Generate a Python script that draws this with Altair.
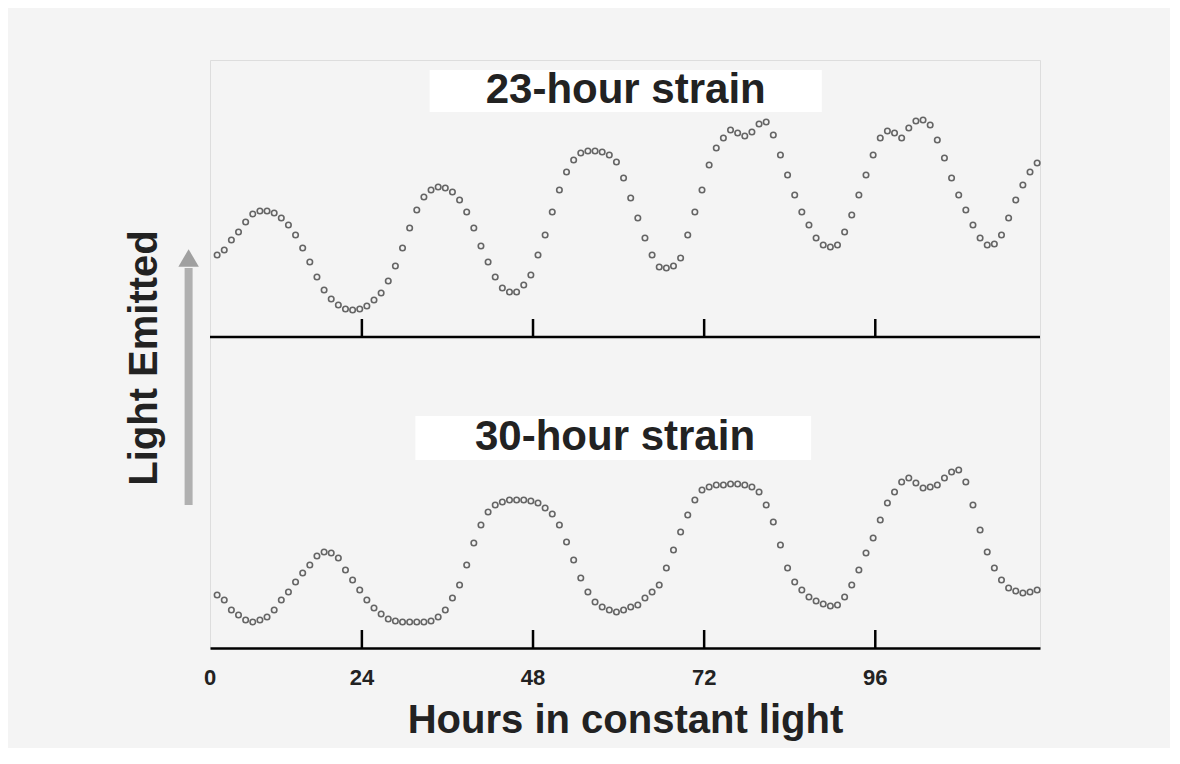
import altair as alt
import pandas as pd

# readings taken hourly, in picture units measured downward from the top
hours = [h + 2.7 for h in range(1, 117)]
strain23_read = [
    255, 250, 240, 232, 222, 214, 211, 211, 213, 218, 225, 235, 248, 262, 277, 290, 299, 305, 309, 310,
    309, 306, 300, 293, 281, 266, 248, 228, 210, 197, 190, 187, 188, 192, 200, 212, 228, 246, 262, 277,
    288, 292, 292, 285, 275, 255, 235, 212, 190, 172, 160, 153, 151, 151, 152, 155, 162, 178, 198, 218,
    238, 255, 267, 268, 266, 258, 235, 212, 190, 165, 148, 138, 130, 133, 136, 132, 124, 122, 135, 155,
    175, 195, 212, 225, 238, 245, 247, 245, 232, 215, 195, 175, 155, 138, 131, 133, 138, 128, 121, 120,
    125, 140, 158, 178, 195, 210, 225, 238, 245, 244, 235, 218, 200, 185, 172, 163,
]
strain30_read = [
    595, 600, 610, 615, 620, 622, 620, 617, 610, 600, 592, 582, 573, 565, 556, 552, 553, 558, 570, 580,
    590, 600, 608, 614, 619, 621, 622, 622, 622, 622, 621, 617, 610, 598, 585, 565, 543, 525, 512, 505,
    502, 500, 500, 500, 501, 503, 508, 514, 525, 542, 560, 578, 592, 602, 607, 610, 612, 610, 607, 605,
    598, 592, 585, 568, 550, 532, 515, 500, 490, 487, 485, 485, 484, 484, 485, 487, 492, 505, 522, 545,
    568, 582, 590, 597, 601, 604, 606, 605, 597, 585, 570, 553, 538, 520, 503, 492, 482, 478, 483, 488,
    487, 485, 478, 472, 470, 482, 505, 530, 552, 568, 580, 588, 591, 593, 592, 590,
]
tick_hours = [24, 48, 72, 96]
label_pos = [2.7, 24, 48, 72, 96]
label_text = ["0", "24", "48", "72", "96"]

TOP_BASE, BOT_BASE = 337, 648
X0, X1 = 2.7, 119.1

points = pd.DataFrame({
    "hour": hours * 2,
    "y": strain23_read + strain30_read,
})

x = alt.X("hour:Q", scale=alt.Scale(domain=[X0, X1], nice=False, zero=False),
          axis=alt.Axis(labels=False, ticks=False, grid=False, domainColor="black",
                        domainWidth=2.5, title="Hours in constant light",
                        titleFont="Liberation Sans", titleFontSize=40, titleFontWeight="bold",
                        titleColor="#222", titlePadding=52))
yscale = alt.Scale(domain=[60, BOT_BASE], reverse=True, nice=False, zero=False)
y = alt.Y("y:Q", scale=yscale, axis=None)

boxes = alt.Chart(pd.DataFrame({
    "hour": [33.5, 31.5], "hour2": [88.5, 87.0], "y": [70, 416], "y2": [112, 460],
})).mark_rect(color="white").encode(x="hour:Q", x2="hour2:Q", y=y, y2="y2:Q")

dots = alt.Chart(points).mark_point(filled=False, stroke="#2a2a2a", strokeWidth=1.6, size=30).encode(x=x, y=y)

top_axis = alt.Chart(pd.DataFrame({"a": [X0], "b": [X1], "y": [TOP_BASE]})).mark_rule(
    color="black", strokeWidth=2.5).encode(x=alt.X("a:Q"), x2="b:Q", y=y)

ticks = alt.Chart(pd.DataFrame({
    "hour": tick_hours * 2,
    "y": [TOP_BASE] * 4 + [BOT_BASE] * 4,
    "y2": [TOP_BASE - 18] * 4 + [BOT_BASE - 18] * 4,
})).mark_rule(color="black", strokeWidth=2.5).encode(x="hour:Q", y=y, y2="y2:Q")

xlabels = alt.Chart(pd.DataFrame({"hour": label_pos, "y": [678] * 5, "t": label_text})).mark_text(
    font="Liberation Sans", fontSize=22, fontWeight="bold", color="#222", clip=False).encode(
    x="hour:Q", y=y, text="t:N")

titles = alt.Chart(pd.DataFrame({
    "hour": [61.0, 59.5], "y": [90, 437], "t": ["23-hour strain", "30-hour strain"],
})).mark_text(font="Liberation Sans", fontSize=42, fontWeight="bold", color="#222").encode(
    x="hour:Q", y=y, text="t:N")

arrow = alt.Chart(pd.DataFrame({"hour": [-0.3], "y": [505], "y2": [268]})).mark_rule(
    color="#b0b0b0", strokeWidth=8, clip=False).encode(x="hour:Q", y=y, y2="y2:Q")
head = alt.Chart(pd.DataFrame({"hour": [-0.3], "y": [258]})).mark_point(
    shape="triangle-up", filled=True, color="#a0a0a0", size=420, opacity=1, clip=False).encode(x="hour:Q", y=y)

ylabel = alt.Chart(pd.DataFrame({"hour": [-6.4], "y": [358], "t": ["Light Emitted"]})).mark_text(
    font="Liberation Sans", fontSize=40, fontWeight="bold", color="#222", angle=270, clip=False).encode(
    x="hour:Q", y=y, text="t:N")

chart = alt.layer(boxes, arrow, head, ylabel, top_axis, ticks, dots, xlabels, titles).properties(
    width=830, height=588, autosize=alt.AutoSizeParams(type="none"),
    padding={"left": 202, "top": 52, "right": 130, "bottom": 100},
).configure_view(strokeWidth=0, stroke="transparent").configure(background="#f4f4f4")

chart.save("out.html", embed_options={"renderer": "svg", "actions": False})
